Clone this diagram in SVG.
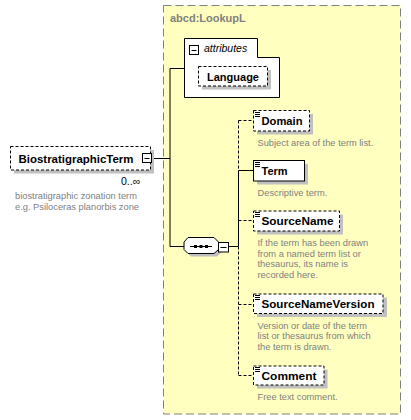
<svg xmlns="http://www.w3.org/2000/svg" width="411" height="420" viewBox="0 0 411 420">
<style>
.name{font-family:"Liberation Sans",Arial,sans-serif;font-weight:bold;font-size:11px;fill:#000}
.desc{font-family:"Liberation Sans",Arial,sans-serif;font-size:9.3px;fill:#808080}
.box{fill:#fff;stroke:#000;stroke-width:1}
.dash{stroke-dasharray:3,2}
.shadow{fill:#c0c0c0}
.ln{stroke:#000;stroke-width:1;fill:none}
.ic{stroke:#000;stroke-width:1}
</style>
<rect width="411" height="420" fill="#fff"/>
<g id="lookup">
<rect x="163.5" y="5.5" width="237" height="408.5" fill="#ffffc0" stroke="#808080" stroke-dasharray="8,4"/>
<text x="170" y="22" font-family="Liberation Sans,Arial,sans-serif" font-weight="bold" font-size="11" fill="#808080">abcd:LookupL</text>
</g>
<g id="connectors">
<path class="ln" d="M152 158.5H170M170 68.5H184.5M170 68.5V246.5H184"/>
<path class="ln" d="M228.5 246.5H238.5M238.5 170.5V246.5M238.5 170.5H253"/>
<path class="ln dash" d="M238.5 120.5H253M238.5 120.5V170.5M238.5 246.5V375.5M238.5 220.5H253M238.5 304.5H253M238.5 375.5H253"/>
</g>
<g id="BiostratigraphicTerm">
<rect class="shadow" x="14" y="150" width="140" height="23.5"/>
<rect class="box dash" x="10.5" y="146.5" width="140" height="23.5"/>
<text class="name" x="18.5" y="162.5" textLength="115" lengthAdjust="spacingAndGlyphs">BiostratigraphicTerm</text>
<rect class="box" x="142.5" y="153.5" width="9" height="9"/>
<path class="ic" d="M144.5 158.5H149.5"/>
<text x="121" y="185" font-family="Liberation Sans,Arial,sans-serif" font-size="10.5" fill="#000">0..∞</text>
<text class="desc" x="15" y="199">biostratigraphic zonation term</text>
<text class="desc" x="15" y="210">e.g. Psiloceras planorbis zone</text>
</g>
<g id="attributes">
<path class="box" d="M184.5 38.5H257.5V57.5H279.5V97.5H184.5Z"/>
<rect class="box" x="189.5" y="45.5" width="9" height="9"/>
<path class="ic" d="M191.5 50.5H196.5"/>
<text x="204" y="52" font-family="Liberation Sans,Arial,sans-serif" font-style="italic" font-size="10.5" fill="#000">attributes</text>
</g>
<g id="Language">
<rect class="shadow" x="202" y="70" width="69" height="19.5"/>
<rect class="box dash" x="198.5" y="66.5" width="69" height="19.5"/>
<text class="name" x="233" y="80.5" text-anchor="middle">Language</text>
</g>
<g id="sequence">
<polygon class="shadow" points="191,240.5 217,240.5 221.5,245 221.5,252.5 217,256.5 191,256.5 187,252.5 187,245"/>
<polygon class="box" points="188,237.5 214,237.5 218.5,242 218.5,249.5 214,253.5 188,253.5 184,249.5 184,242"/>
<path class="ic" d="M190 246.5H212"/>
<rect x="194" y="245" width="3" height="3" fill="#000"/>
<rect x="199.5" y="245" width="3" height="3" fill="#000"/>
<rect x="205" y="245" width="3" height="3" fill="#000"/>
<rect class="box" x="218.5" y="242.5" width="10" height="9.5"/>
<path class="ic" d="M220.5 247.5H226.5"/>
</g>
<g id="Domain">
<rect class="shadow" x="257" y="114" width="56" height="20.5"/>
<rect class="box dash" x="253.5" y="110.5" width="56" height="20.5"/>
<path class="ic" d="M255 112.5H260M255 114.5H260M255 116.5H260"/>
<text class="name" x="261.5" y="125" textLength="41" lengthAdjust="spacingAndGlyphs">Domain</text>
<text class="desc" x="257.5" y="146">Subject area of the term list.</text>
</g>
<g id="Term">
<rect class="shadow" x="257" y="164" width="51" height="20.5"/>
<rect class="box" x="253.5" y="160.5" width="51" height="20.5"/>
<path class="ic" d="M255 162.5H260M255 164.5H260M255 166.5H260"/>
<text class="name" x="261.5" y="175">Term</text>
<text class="desc" x="257.5" y="196">Descriptive term.</text>
</g>
<g id="SourceName">
<rect class="shadow" x="257" y="214.5" width="86" height="20"/>
<rect class="box dash" x="253.5" y="211" width="86" height="20"/>
<path class="ic" d="M255 212.5H260M255 214.5H260M255 216.5H260"/>
<text class="name" x="261.5" y="225" textLength="72" lengthAdjust="spacingAndGlyphs">SourceName</text>
<text class="desc" x="257.5" y="246">If the term has been drawn</text>
<text class="desc" x="257.5" y="256.5">from a named term list or</text>
<text class="desc" x="257.5" y="267">thesaurus, its name is</text>
<text class="desc" x="257.5" y="277.5">recorded here.</text>
</g>
<g id="SourceNameVersion">
<rect class="shadow" x="257" y="297.5" width="130" height="19.5"/>
<rect class="box dash" x="253.5" y="294" width="129.5" height="19.5"/>
<path class="ic" d="M255 295.5H260M255 297.5H260M255 299.5H260"/>
<text class="name" x="261.5" y="308" textLength="113" lengthAdjust="spacingAndGlyphs">SourceNameVersion</text>
<text class="desc" x="257.5" y="328.5">Version or date of the term</text>
<text class="desc" x="257.5" y="339">list or thesaurus from which</text>
<text class="desc" x="257.5" y="350">the term is drawn.</text>
</g>
<g id="Comment">
<rect class="shadow" x="257" y="369.5" width="70.5" height="19"/>
<rect class="box dash" x="253.5" y="366" width="70.5" height="19"/>
<path class="ic" d="M255 367.5H260M255 369.5H260M255 371.5H260"/>
<text class="name" x="261.5" y="379.5" textLength="55" lengthAdjust="spacingAndGlyphs">Comment</text>
<text class="desc" x="257.5" y="400">Free text comment.</text>
</g>
</svg>
